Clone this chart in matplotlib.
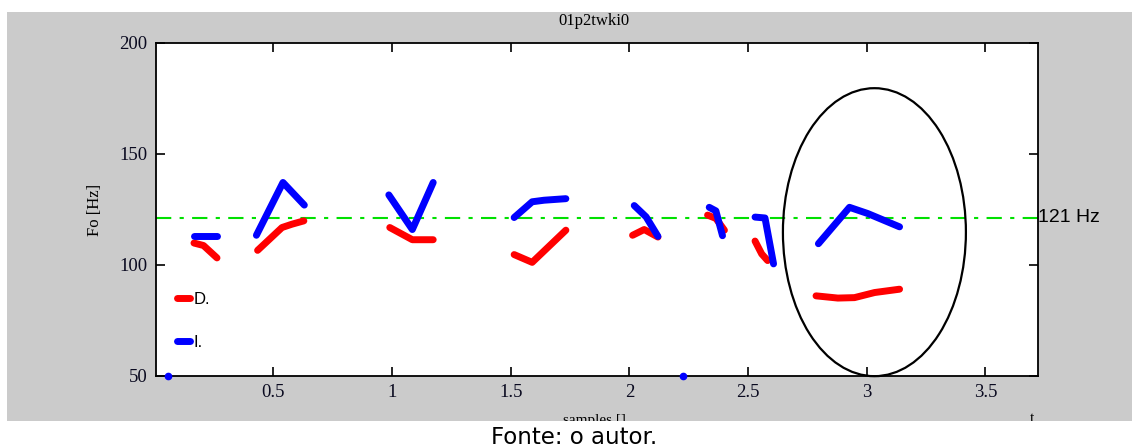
import matplotlib
matplotlib.use("Agg")
import matplotlib.pyplot as plt
from matplotlib.patches import Rectangle, Ellipse
from matplotlib.lines import Line2D
import matplotlib.transforms as mtransforms

plt.rcParams['lines.scale_dashes'] = False

# D. (red) contour pieces
d_x = [[0.165, 0.205, 0.262],
       [0.433, 0.536, 0.578, 0.628],
       [0.99, 1.085, 1.173],
       [1.514, 1.59, 1.732],
       [2.013, 2.062, 2.12],
       [2.329, 2.364, 2.40],
       [2.529, 2.557, 2.582],
       [2.786, 2.878, 2.948, 3.033, 3.138]]
d_y = [[109.7, 108.6, 103.0],
       [106.4, 116.7, 118.2, 119.7],
       [116.7, 111.2, 111.2],
       [104.5, 101.0, 115.5],
       [113.2, 115.8, 112.4],
       [122.3, 120.8, 115.5],
       [110.6, 104.8, 101.8],
       [85.9, 84.9, 85.1, 87.4, 88.9]]

# I. (blue) contour pieces
i_x = [[0.165, 0.262],
       [0.428, 0.54, 0.63],
       [0.986, 1.085, 1.173],
       [1.514, 1.59, 1.64, 1.732],
       [2.02, 2.07, 2.12],
       [2.336, 2.364, 2.392],
       [2.529, 2.571, 2.607],
       [2.796, 2.927, 3.004, 3.138]]
i_y = [[112.7, 112.7],
       [113.2, 137.0, 126.8],
       [131.4, 115.8, 137.0],
       [121.2, 128.3, 129.0, 129.7],
       [126.6, 121.5, 112.7],
       [125.8, 124.2, 113.0],
       [121.4, 121.0, 100.3],
       [109.4, 125.8, 123.0, 117.0]]

dot_x = [0.055, 2.226]
dot_y = [50, 50]

ref_hz = 121
xticks = [0.5, 1, 1.5, 2, 2.5, 3, 3.5]
xticklabels = ['0.5', '1', '1.5', '2', '2.5', '3', '3.5']
yticks = [50, 100, 150, 200]

W, H = 1132, 447
fig = plt.figure(figsize=(W / 100, H / 100), dpi=100)
fig.patch.set_facecolor('white')

# grey window background
fig.add_artist(Rectangle((7 / W, 1 - 420.5 / H), 1, (420.5 - 12) / H,
                         transform=fig.transFigure, facecolor='#cbcbcb',
                         edgecolor='none', zorder=-10))

ax = fig.add_axes([156 / W, 1 - 375.5 / H, 881.7 / W, 332.8 / H])
ax.set_facecolor('white')

serif = ['Liberation Serif', 'DejaVu Serif']
sans = ['Liberation Sans', 'DejaVu Sans']

for k in range(len(d_x)):
    ax.plot(d_x[k], d_y[k], color='#ff0000', lw=5, solid_capstyle='round',
            solid_joinstyle='round', zorder=3)
for k in range(len(i_x)):
    ax.plot(i_x[k], i_y[k], color='#0000ff', lw=5, solid_capstyle='round',
            solid_joinstyle='round', zorder=4)
ax.plot(dot_x, dot_y, 'o', color='#0000ff', ms=4.5, clip_on=False, zorder=5)

ax.axhline(ref_hz, color='#00e000', lw=1.5, ls=(0, (11, 6, 3, 6)), zorder=2)
trans = mtransforms.blended_transform_factory(ax.transAxes, ax.transData)
ax.text(1.0, ref_hz, '121 Hz', transform=trans, ha='left', va='center',
        fontsize=14, family=sans)

ax.add_patch(Ellipse((3.032, 114.6), 0.771, 129.8, fill=False,
                     edgecolor='black', lw=1.6, zorder=6, clip_on=False))

ax.set_xlim(0.005, 3.72)
ax.set_ylim(50, 200)
ax.set_xticks(xticks)
ax.set_xticklabels(xticklabels)
ax.set_yticks(yticks)
ax.tick_params(direction='in', length=6.5, width=1.2, top=True, right=True,
               labelsize=13.5, pad=6, labelcolor='#0a0a20')
for lab in ax.get_xticklabels() + ax.get_yticklabels():
    lab.set_family(serif)
for s in ax.spines.values():
    s.set_linewidth(1.3)

handles = [Line2D([], [], color='#ff0000', lw=5, solid_capstyle='round'),
           Line2D([], [], color='#0000ff', lw=5, solid_capstyle='round')]
ax.legend(handles, ['D.', 'I.'], loc='upper left',
          bbox_to_anchor=(0.014, 0.277), frameon=False, handlelength=0.8,
          handletextpad=0.2, labelspacing=1.72, borderpad=0,
          prop={'family': sans, 'size': 12})

fig.text(594 / W, 1 - 21 / H, '01p2twki0', ha='center', va='center',
         fontsize=12, family=serif)
fig.text(95 / W, 1 - 210 / H, 'Fo [Hz]', ha='center', va='center',
         rotation=90, fontsize=12, family=serif)
fig.text(594 / W, 1 - 414 / H, 'samples []', ha='center', va='top',
         fontsize=11, family=serif)
fig.text(1032 / W, 1 - 412 / H, 't', ha='center', va='top',
         fontsize=11, family=serif)

# white strip below the window, cuts the axis label
fig.add_artist(Rectangle((0, 0), 1, 1 - 420.5 / H, transform=fig.transFigure,
                         facecolor='white', edgecolor='none', zorder=8))
fig.text(574 / W, 1 - 443.5 / H, 'Fonte: o autor.', ha='center',
         va='baseline', fontsize=16.5, family=['DejaVu Sans'], zorder=9)

fig.savefig('out.png', dpi=100)
